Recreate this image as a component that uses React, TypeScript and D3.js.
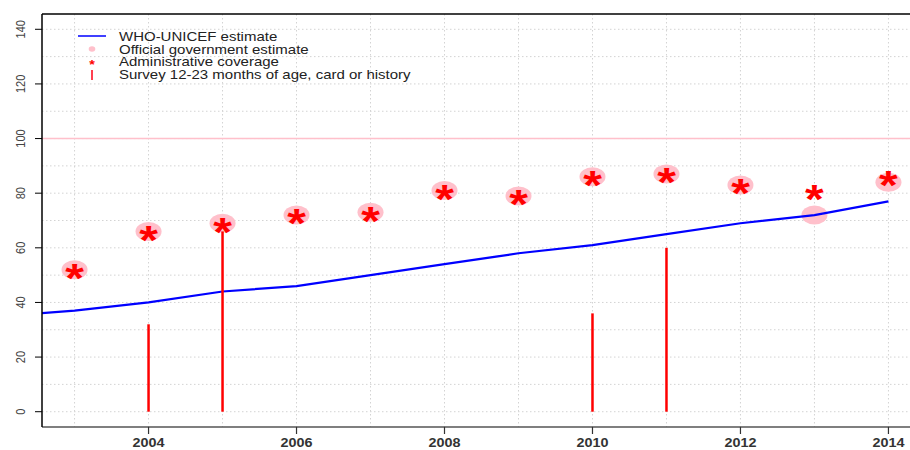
import React from 'react';
import * as d3 from 'd3';

const years = [2003, 2004, 2005, 2006, 2007, 2008, 2009, 2010, 2011, 2012, 2013, 2014];
const whoYears = [2002, 2003, 2004, 2005, 2006, 2007, 2008, 2009, 2010, 2011, 2012, 2013, 2014];
const whoUnicef = [35, 37, 40, 44, 46, 50, 54, 58, 61, 65, 69, 72, 77];
const official = [52, 66, 69, 72, 73, 81, 79, 86, 87, 83, 72, 84];
const admin = [52, 66, 69, 72, 73, 81, 79, 86, 87, 83, 81, 86];
const surveyYears = [2004, 2005, 2010, 2011];
const survey = [32, 66, 36, 60];
const yTicks = [0, 20, 40, 60, 80, 100, 120, 140];
const xTicks = [2004, 2006, 2008, 2010, 2012, 2014];
const legendLabels = [
  'WHO-UNICEF estimate',
  'Official government estimate',
  'Administrative coverage',
  'Survey 12-23 months of age, card or history',
];

const W = 910;
const H = 450;
const left = 42, top = 14, right = 921, bottom = 427;
const font = '"Liberation Sans", Arial, sans-serif';
// the original picture was stretched sideways, text included
const stretch = 1.2;

export default function App() {
  const x = d3.scaleLinear().domain([2002.56, 2014.44]).range([left, right]);
  const y = d3.scaleLinear().domain([-5.6, 145.6]).range([bottom, top]);

  const line = d3.line<number>()
    .x((_, i) => x(whoYears[i]))
    .y((d) => y(d));

  const gridX = d3.range(2003, 2015);
  const gridY = d3.range(0, 150, 10);

  // asterisk glyph drawn as text, centred on a point
  const star = (cx: number, cy: number, size: number, key: string) => (
    <text
      key={key}
      transform={`translate(${cx},${cy}) scale(${stretch},1)`}
      textAnchor="middle"
      dy={size * 0.56}
      fontSize={size}
      fontWeight="bold"
      fontFamily={font}
      fill="#ff0000"
    >*</text>
  );

  return (
    <svg width={W} height={H} style={{ position: 'absolute', left: 0, top: 0, background: '#fff' }}>
      <defs>
        <clipPath id="plot">
          <rect x={left} y={top} width={right - left} height={bottom - top} />
        </clipPath>
      </defs>

      {/* grid */}
      <g stroke="#d3d3d3" strokeDasharray="1.5,2.5" strokeWidth={1}>
        {gridX.map((g) => (
          <line key={'gx' + g} x1={x(g)} x2={x(g)} y1={top} y2={bottom} />
        ))}
        {gridY.map((g) => (
          <line key={'gy' + g} x1={left} x2={right} y1={y(g)} y2={y(g)} />
        ))}
      </g>

      <g clipPath="url(#plot)">
        <line x1={left} x2={right} y1={y(100)} y2={y(100)} stroke="#ffc0cb" strokeWidth={1.5} />

        {official.map((v, i) => (
          <ellipse key={'o' + i} cx={x(years[i])} cy={y(v)} rx={13} ry={9.5} fill="#ffc0cb" />
        ))}

        <path d={line(whoUnicef) ?? ''} fill="none" stroke="#0000ff" strokeWidth={2.2} />

        {survey.map((v, i) => (
          <line key={'s' + i} x1={x(surveyYears[i])} x2={x(surveyYears[i])} y1={y(0)} y2={y(v)}
            stroke="#ff0000" strokeWidth={2.5} />
        ))}

        {admin.map((v, i) => star(x(years[i]), y(v), 40, 'a' + i))}
      </g>

      {/* box */}
      <g strokeWidth={1.5} fill="none">
        <line x1={left} x2={right} y1={top} y2={top} stroke="#000" />
        <line x1={left} x2={right} y1={bottom} y2={bottom} stroke="#555" />
        <line x1={left} x2={left} y1={top} y2={bottom} stroke="#000" />
      </g>

      {/* y axis */}
      {yTicks.map((t) => (
        <g key={'yt' + t}>
          <line x1={left - 7} x2={left} y1={y(t)} y2={y(t)} stroke="#000" strokeWidth={1} />
          <text
            transform={`translate(${left - 17},${y(t)}) scale(${stretch},1) rotate(-90)`}
            textAnchor="middle"
            fontSize={11}
            fontFamily={font}
            fill="#444"
          >{t}</text>
        </g>
      ))}

      {/* x axis */}
      {xTicks.map((t) => (
        <g key={'xt' + t}>
          <line x1={x(t)} x2={x(t)} y1={bottom} y2={bottom + 7} stroke="#333" strokeWidth={1.2} />
          <text transform={`translate(${x(t)},${bottom + 20}) scale(${stretch},1)`}
            textAnchor="middle" fontSize={12} fontWeight="bold"
            fontFamily={font} fill="#333">{t}</text>
        </g>
      ))}

      {/* legend */}
      <g fontFamily={font} fontSize={12.5} fill="#222">
        <line x1={78} x2={106} y1={36} y2={36} stroke="#0000ff" strokeWidth={1.5} />
        <ellipse cx={92} cy={49} rx={3.3} ry={2.8} fill="#ffc0cb" />
        {star(92, 62, 12, 'leg')}
        <line x1={92} x2={92} y1={70} y2={80} stroke="#ff4050" strokeWidth={2} />
        {legendLabels.map((l, i) => (
          <text key={'l' + i} transform={`translate(119,${41 + i * 12.7}) scale(${stretch},1)`}>{l}</text>
        ))}
      </g>
    </svg>
  );
}
